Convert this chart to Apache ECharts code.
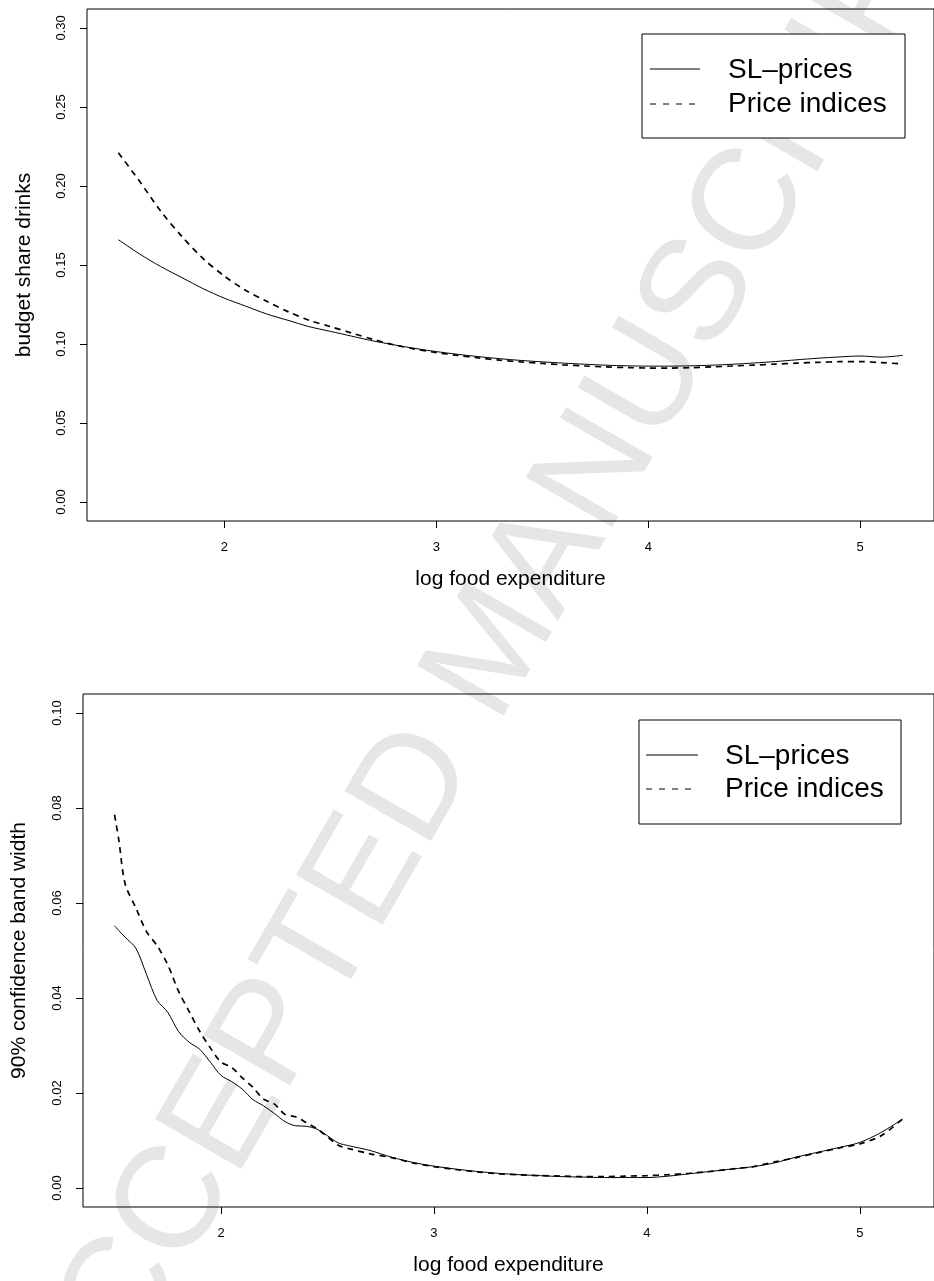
<!DOCTYPE html>
<html>
<head>
<meta charset="utf-8">
<script src="https://cdn.jsdelivr.net/npm/echarts@6/dist/echarts.min.js"></script>
<style>
html,body{margin:0;padding:0;background:#fff;}
#chart{width:934px;height:1281px;}
</style>
</head>
<body>
<div id="chart"></div>
<script>
// ---- data ----
const xTop = [1.5,1.6,1.7,1.8,1.9,2.0,2.1,2.2,2.3,2.4,2.5,2.6,2.7,2.8,2.9,3.0,3.1,3.2,3.3,3.4,3.5,3.6,3.7,3.8,3.9,4.0,4.1,4.2,4.3,4.4,4.5,4.6,4.7,4.8,4.9,5.0,5.1,5.2];
const slTop = [0.166,0.157,0.149,0.142,0.135,0.129,0.124,0.119,0.115,0.111,
               0.108,0.105,0.102,0.0995,0.0972,0.0952,0.0935,0.0920,0.0907,0.0896,
               0.0887,0.0879,0.0872,0.0866,0.0862,0.0860,0.0860,0.0862,0.0866,0.0872,
               0.0880,0.0889,0.0900,0.0910,0.0918,0.0924,0.0917,0.0928];
const piTop = [0.221,0.203,0.184,0.168,0.154,0.143,0.134,0.127,0.1205,0.115,
               0.111,0.107,0.103,0.0995,0.0968,0.0946,0.0928,0.0912,0.0898,0.0887,
               0.0877,0.0868,0.0861,0.0855,0.0851,0.0848,0.0848,0.0850,0.0855,0.0861,
               0.0867,0.0873,0.0879,0.0884,0.0888,0.0889,0.0882,0.0874];

const xBot = [1.5,1.52,1.55,1.6,1.65,1.7,1.75,1.8,1.85,1.9,1.95,2.0,2.05,2.1,2.15,2.2,2.25,2.3,2.35,2.4,2.45,2.5,2.55,2.6,
              2.7,2.8,2.9,3.0,3.1,3.2,3.3,3.4,3.5,3.6,3.7,3.8,3.9,4.0,4.1,4.2,4.3,4.4,4.5,4.6,4.7,4.8,4.9,5.0,5.1,5.2];
const slBot = [0.0552,0.0542,0.0528,0.0505,0.0450,0.0395,0.0370,0.0330,0.0307,0.0292,0.0265,0.0237,0.0224,0.0208,0.0186,0.0173,0.0157,0.0140,0.0131,0.0130,0.0124,0.0110,0.0095,0.0089,
               0.0079,0.0065,0.0054,0.0046,0.0040,0.0035,0.0031,0.0028,0.0026,0.0024,0.0023,0.0022,0.0022,0.0022,0.0025,0.0030,0.0035,0.0040,0.0045,0.0053,0.0065,0.0075,0.0085,0.0096,0.0117,0.0145];
const piBot = [0.0786,0.0733,0.0640,0.0590,0.0540,0.0510,0.0470,0.0415,0.0372,0.0330,0.0295,0.0265,0.0254,0.0232,0.0212,0.0187,0.0177,0.0155,0.0150,0.0138,0.0125,0.0108,0.0090,0.0083,
               0.0072,0.0064,0.0053,0.0045,0.0039,0.0034,0.0030,0.0028,0.0026,0.0025,0.0024,0.0024,0.0025,0.0026,0.0028,0.0031,0.0035,0.0040,0.0045,0.0055,0.0064,0.0074,0.0084,0.0093,0.0110,0.0145];

const xTicks = [2,3,4,5];
const yTicksTop = [0,0.05,0.10,0.15,0.20,0.25,0.30];
const yTicksBot = [0,0.02,0.04,0.06,0.08,0.10];
const seriesNames = ['SL\u2013prices','Price indices'];
const xTitle = 'log food expenditure';
const yTitleTop = 'budget share drinks';
const yTitleBot = '90% confidence band width';
const watermark = 'ACCEPTED MANUSCRIPT';

// ---- chart ----
const FONT = '"Liberation Sans", Arial, Helvetica, sans-serif';
const pair = (xs, ys) => xs.map((x,i)=>[x, ys[i]]);

function xAxisCfg(gi){
  return {
    gridIndex: gi, type:'value', min:1.352, max:5.348,
    splitLine:{show:false},
    axisLine:{show:false, onZero:false},
    axisTick:{show:true, length:7, inside:false, customValues:xTicks, lineStyle:{color:'#000', width:1}},
    axisLabel:{customValues:xTicks, margin:20, fontSize:13, color:'#000', fontFamily:FONT},
    name:xTitle, nameLocation:'middle', nameGap:48,
    nameTextStyle:{fontSize:21, color:'#000', fontFamily:FONT}
  };
}
function yAxisCfg(gi, min, max, ticks, title, gap){
  return {
    gridIndex: gi, type:'value', min:min, max:max,
    splitLine:{show:false},
    axisLine:{show:false, onZero:false},
    axisTick:{show:true, length:7, inside:false, customValues:ticks, lineStyle:{color:'#000', width:1}},
    axisLabel:{customValues:ticks, rotate:90, margin:19, fontSize:13, color:'#000', fontFamily:FONT,
               formatter:v=>Number(v).toFixed(2)},
    name:title, nameLocation:'middle', nameGap:gap, nameRotate:90,
    nameTextStyle:{fontSize:21, color:'#000', fontFamily:FONT}
  };
}
function lineSeries(name, gi, data, dashed){
  return {
    name:name, type:'line', xAxisIndex:gi, yAxisIndex:gi, data:data,
    showSymbol:false, smooth:0.3, silent:true, z:5,
    lineStyle: dashed ? {color:'#000', width:1.7, type:[6,5]} : {color:'#000', width:1, type:'solid'}
  };
}
function legendGraphics(x0, y0, w, h, lx1, lx2, ly1, ly2, tx){
  return [
    {type:'rect', shape:{x:x0, y:y0, width:w, height:h}, style:{fill:'#fff', stroke:'#000', lineWidth:1}, z:10},
    {type:'line', shape:{x1:lx1, y1:ly1, x2:lx2, y2:ly1}, style:{stroke:'#000', lineWidth:1}, z:11},
    {type:'line', shape:{x1:lx1, y1:ly2, x2:lx2, y2:ly2}, style:{stroke:'#000', lineWidth:1, lineDash:[6,7]}, z:11},
    {type:'text', x:tx, y:ly1+1, style:{text:seriesNames[0], fontSize:28, fontFamily:FONT, fill:'#000', textAlign:'left', textVerticalAlign:'middle'}, z:11},
    {type:'text', x:tx, y:ly2, style:{text:seriesNames[1], fontSize:28, fontFamily:FONT, fill:'#000', textAlign:'left', textVerticalAlign:'middle'}, z:11}
  ];
}

const chart = echarts.init(document.getElementById('chart'), null, {renderer:'canvas'});
const option = {
  animation:false,
  backgroundColor:'#fff',
  grid:[
    {left:87, top:9, width:861, height:512, show:true, borderColor:'#000', borderWidth:1, backgroundColor:'rgba(0,0,0,0)', containLabel:false},
    {left:83, top:694, width:861, height:513, show:true, borderColor:'#000', borderWidth:1, backgroundColor:'rgba(0,0,0,0)', containLabel:false}
  ],
  xAxis:[xAxisCfg(0), xAxisCfg(1)],
  yAxis:[
    yAxisCfg(0, -0.012, 0.312, yTicksTop, yTitleTop, 52),
    yAxisCfg(1, -0.004, 0.104, yTicksBot, yTitleBot, 53)
  ],
  series:[
    lineSeries(seriesNames[0], 0, pair(xTop, slTop), false),
    lineSeries(seriesNames[1], 0, pair(xTop, piTop), true),
    lineSeries(seriesNames[0], 1, pair(xBot, slBot), false),
    lineSeries(seriesNames[1], 1, pair(xBot, piBot), true)
  ],
  graphic:[
    {type:'text', x:495, y:650, rotation:Math.PI/3, z:-10, silent:true,
     style:{text:watermark, fontSize:145, fontFamily:FONT, fill:'#e6e6e6', textAlign:'center', textVerticalAlign:'middle'}},
    ...legendGraphics(642, 34, 263, 104, 650, 700, 69, 104, 728),
    ...legendGraphics(639, 720, 262, 104, 646, 698, 755, 789, 725)
  ]
};
chart.setOption(option);
</script>
</body>
</html>
